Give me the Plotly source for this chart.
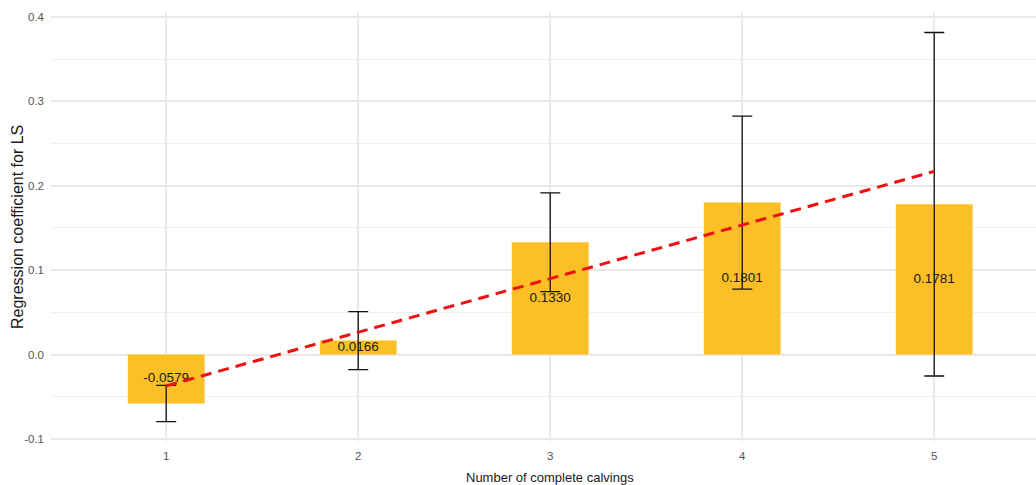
import numpy as np
import plotly.graph_objects as go

# Data
calvings = [1, 2, 3, 4, 5]
coef = [-0.0579, 0.0166, 0.1330, 0.1801, 0.1781]
err = [0.0215, 0.0344, 0.0585, 0.1025, 0.2035]
tick_vals_y = [-0.1, 0.0, 0.1, 0.2, 0.3, 0.4]
tick_text_y = ["-0.1", "0.0", "0.1", "0.2", "0.3", "0.4"]

BAR = "#FCBF26"
SANS = "Liberation Sans, Arial, sans-serif"

# Linear trend through the coefficients
slope, intercept = np.polyfit(calvings, coef, 1)
trend_x = [calvings[0], calvings[-1]]
trend_y = [intercept + slope * x for x in trend_x]

fig = go.Figure()

fig.add_trace(go.Bar(
    x=calvings, y=coef, width=0.4,
    marker=dict(color=BAR, line=dict(width=0)),
    showlegend=False, hoverinfo="skip",
))

# value labels centred inside each bar
fig.add_trace(go.Scatter(
    x=calvings, y=[v / 2 for v in coef], mode="text",
    text=[f"{v:.4f}" for v in coef],
    textposition="middle center",
    textfont=dict(family=SANS, size=13.5, color="#1a1a1a"),
    showlegend=False, hoverinfo="skip",
))

# error bars
fig.add_trace(go.Scatter(
    x=calvings, y=coef, mode="markers",
    marker=dict(size=0.1, color="rgba(0,0,0,0)"),
    error_y=dict(type="data", array=err, visible=True,
                 color="#111111", thickness=1.3, width=10),
    showlegend=False, hoverinfo="skip",
))

fig.add_trace(go.Scatter(
    x=trend_x, y=trend_y, mode="lines",
    line=dict(color="#EE1111", width=3, dash="11px,7px"),
    showlegend=False, hoverinfo="skip",
))

fig.update_layout(
    width=1036, height=485,
    margin=dict(l=51, r=0, t=13, b=44),
    paper_bgcolor="white", plot_bgcolor="white",
    xaxis=dict(
        range=[0.4, 5.53], tickmode="array", tickvals=calvings,
        ticktext=[str(c) for c in calvings],
        showgrid=True, gridcolor="#E8E8E8", gridwidth=1.5,
        zeroline=False, showline=False, ticks="",
        tickfont=dict(family=SANS, size=11.5, color="#555555"),
        ticklabelstandoff=6,
    ),
    yaxis=dict(
        range=[-0.1024, 0.4047], tickmode="array",
        tickvals=tick_vals_y, ticktext=tick_text_y,
        showgrid=True, gridcolor="#E8E8E8", gridwidth=1.8,
        minor=dict(dtick=0.05, tick0=0, showgrid=True,
                   gridcolor="#EFEFEF", gridwidth=1.2),
        zeroline=False, showline=False, ticks="",
        tickfont=dict(family=SANS, size=11.5, color="#555555"),
        ticklabelstandoff=6,
    ),
    annotations=[
        dict(text="Number of complete calvings", x=3, xref="x",
             y=0, yref="paper", yanchor="middle", yshift=-36,
             showarrow=False,
             font=dict(family=SANS, size=13, color="#1a1a1a")),
        dict(text="Regression coefficient for LS", x=0, xref="paper",
             xanchor="center", xshift=-34, y=0.5, yref="paper",
             yanchor="middle", textangle=-90, showarrow=False,
             font=dict(family=SANS, size=16, color="#1a1a1a")),
    ],
)

fig.write_html("out.html")
